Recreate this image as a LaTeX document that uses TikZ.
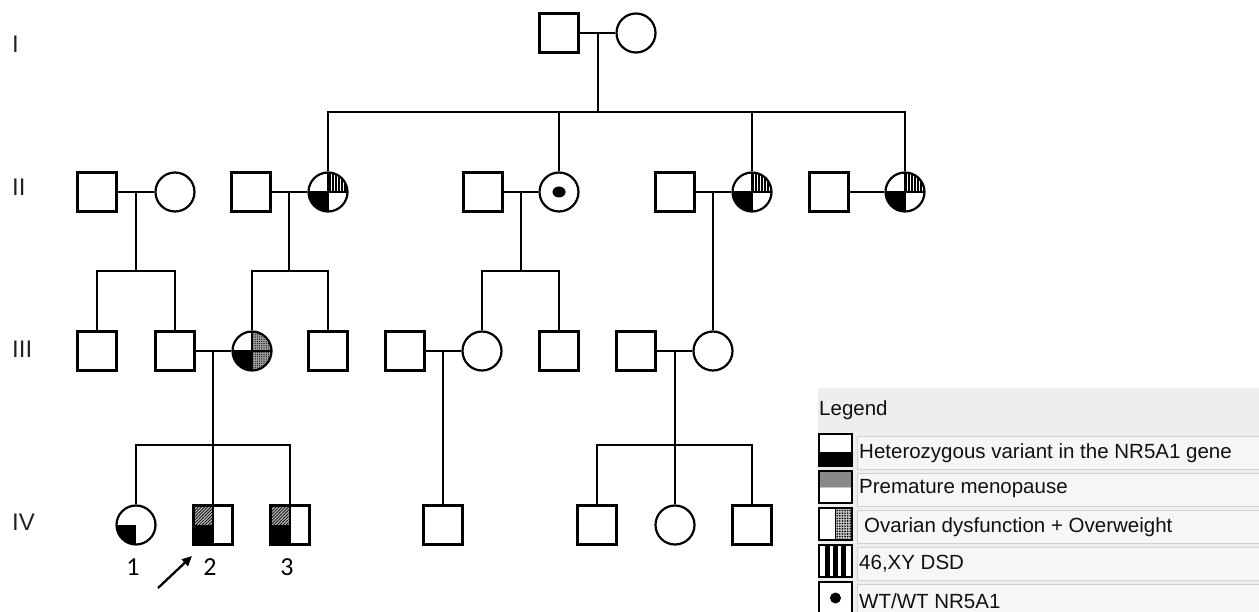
\documentclass[tikz,border=0pt]{standalone}
\usepackage{fontspec}
\setmainfont{Liberation Sans}
\newfontfamily\numfont{Carlito}
\usetikzlibrary{patterns.meta,arrows.meta}
\definecolor{legbg}{HTML}{EEEEEE}
\definecolor{boxbg}{HTML}{F6F6F6}
\definecolor{boxln}{HTML}{D2D2D2}
\definecolor{txt}{HTML}{111111}
\definecolor{genc}{HTML}{222222}
\begin{document}
\begin{tikzpicture}[x=1pt,y=-1pt,
  ln/.style={line width=2.1pt},
  sym/.style={draw, line width=2.2pt, inner sep=0pt, fill=white},
  male/.style={sym, rectangle, minimum size=39pt},
  female/.style={sym, circle, minimum size=39pt},
  legsym/.style={sym, rectangle, minimum width=33pt, minimum height=32pt},
  legtxt/.style={anchor=west, text=txt, font=\fontsize{20.5}{24}\selectfont, inner sep=0pt},
  legbox/.style={fill=boxbg, draw=boxln, line width=0.8pt},
  gen/.style={anchor=west, text=genc, font=\fontsize{24}{28}\selectfont, inner sep=0pt},
  num/.style={font=\numfont\fontsize{26}{30}\selectfont, inner sep=0pt},
  quadA/.style={path picture={
    \fill[pattern={Lines[angle=90,distance=3pt,line width=1.2pt]}] (path picture bounding box.center) rectangle (path picture bounding box.north east);
    \fill[black] (path picture bounding box.center) rectangle (path picture bounding box.south west);
    \draw[line width=1.3pt] (path picture bounding box.north) -- (path picture bounding box.south)
      (path picture bounding box.west) -- (path picture bounding box.east);}},
  quadB/.style={path picture={
    \fill[gray!75] (path picture bounding box.north) rectangle (path picture bounding box.south east);
    \fill[pattern={Dots[distance=2.2pt,radius=0.6pt]}] (path picture bounding box.north) rectangle (path picture bounding box.south east);
    \fill[black] (path picture bounding box.center) rectangle (path picture bounding box.south west);
    \draw[line width=1.3pt] (path picture bounding box.north) -- (path picture bounding box.south)
      (path picture bounding box.west) -- (path picture bounding box.east);}},
  quadC/.style={path picture={
    \fill[black] (path picture bounding box.center) rectangle (path picture bounding box.south west);}},
  quadD/.style={path picture={
    \fill[gray!60] (path picture bounding box.center) rectangle (path picture bounding box.north west);
    \fill[pattern={Lines[angle=45,distance=2.2pt,line width=0.7pt]}] (path picture bounding box.center) rectangle (path picture bounding box.north west);
    \fill[black] (path picture bounding box.center) rectangle (path picture bounding box.south west);
    \draw[line width=1.5pt] (path picture bounding box.north) -- (path picture bounding box.south);}},
  wtdot/.style={path picture={
    \fill[black] (path picture bounding box.center) ellipse (6.5pt and 5.5pt);}},
  legA/.style={path picture={
    \fill[black] ([yshift=-2pt]path picture bounding box.west) rectangle (path picture bounding box.south east);}},
  legB/.style={path picture={
    \fill[gray!60] (path picture bounding box.west) rectangle (path picture bounding box.north east);
    \fill[pattern={Dots[distance=2pt,radius=0.6pt]}] (path picture bounding box.west) rectangle (path picture bounding box.north east);}},
  legC/.style={path picture={
    \fill[gray!45] (path picture bounding box.north) rectangle (path picture bounding box.south east);
    \fill[pattern={Dots[distance=2.6pt,radius=0.9pt]}] (path picture bounding box.north) rectangle (path picture bounding box.south east);
    \draw[line width=1.6pt] (path picture bounding box.north) -- (path picture bounding box.south);}},
  legD/.style={path picture={
    \foreach \dx in {-8,0,8}{
      \fill[black] ([xshift=\dx pt-2.3pt]path picture bounding box.north) rectangle ([xshift=\dx pt+2.3pt]path picture bounding box.south);}}},
  legE/.style={path picture={
    \fill[black] (path picture bounding box.center) circle (5.5pt);}}
]
\useasboundingbox (0,0) rectangle (1259,612);
\fill[white] (0,0) rectangle (1259,612);

% generation labels
\node[gen] (gI)   at (12,44)  {I};
\node[gen] (gII)  at (12,187) {II};
\node[gen] (gIII) at (12,349) {III};
\node[gen] (gIV)  at (12,522) {IV};

% generation I
\node[male]   (I1) at (559,33) {};
\node[female] (I2) at (636,33) {};

% generation II
\node[male]         (II1)  at (97,192)  {};
\node[female]       (II2)  at (175,192) {};
\node[male]         (II3)  at (251,192) {};
\node[female,quadA] (II4)  at (328,192) {};
\node[male]         (II5)  at (483,192) {};
\node[female,wtdot] (II6)  at (559,192) {};
\node[male]         (II7)  at (675,192) {};
\node[female,quadA] (II8)  at (752,192) {};
\node[male]         (II9)  at (829,192) {};
\node[female,quadA] (II10) at (905,192) {};

% generation III
\node[male]         (III1) at (97,351)  {};
\node[male]         (III2) at (175,351) {};
\node[female,quadB] (III3) at (252,351) {};
\node[male]         (III4) at (328,351) {};
\node[male]         (III5) at (405,351) {};
\node[female]       (III6) at (482,351) {};
\node[male]         (III7) at (559,351) {};
\node[male]         (III8) at (636,351) {};
\node[female]       (III9) at (713,351) {};

% generation IV
\node[female,quadC] (IV1) at (136,525) {};
\node[male,quadD]   (IV2) at (213,525) {};
\node[male,quadD]   (IV3) at (290,525) {};
\node[male]         (IV4) at (443,525) {};
\node[male]         (IV5) at (597,525) {};
\node[female]       (IV6) at (675,525) {};
\node[male]         (IV7) at (752,525) {};

% coordinates of lines of descent
\coordinate (cI) at (598,33);  \coordinate (sI) at (598,112);
\coordinate (cA) at (136,192); \coordinate (sA) at (136,271);
\coordinate (cB) at (289,192); \coordinate (sB) at (289,271);
\coordinate (cC) at (521,192); \coordinate (sC) at (521,271);
\coordinate (cD) at (713,192);
\coordinate (cE) at (213,351); \coordinate (sE) at (213,445);
\coordinate (cF) at (443,351);
\coordinate (cG) at (675,351); \coordinate (sG) at (675,445);

% marriages
\draw[ln] (I1.east) -- (I2.west);
\draw[ln] (II1.east) -- (II2.west);
\draw[ln] (II3.east) -- (II4.west);
\draw[ln] (II5.east) -- (II6.west);
\draw[ln] (II7.east) -- (II8.west);
\draw[ln] (II9.east) -- (II10.west);
\draw[ln] (III2.east) -- (III3.west);
\draw[ln] (III5.east) -- (III6.west);
\draw[ln] (III8.east) -- (III9.west);

% descent
\draw[ln] (cI) -- (sI);
\draw[ln] (II4.north) |- (sI) -| (II10.north);
\draw[ln] (II6.north) -- (II6.north |- sI);
\draw[ln] (II8.north) -- (II8.north |- sI);

\draw[ln] (cA) -- (sA);
\draw[ln] (III1.north) |- (sA) -| (III2.north);
\draw[ln] (cB) -- (sB);
\draw[ln] (III3.north) |- (sB) -| (III4.north);
\draw[ln] (cC) -- (sC);
\draw[ln] (III6.north) |- (sC) -| (III7.north);
\draw[ln] (cD) -- (III9.north);

\draw[ln] (cE) -- (sE);
\draw[ln] (IV1.north) |- (sE) -| (IV3.north);
\draw[ln] (sE) -- (IV2.north);
\draw[ln] (cF) -- (IV4.north);
\draw[ln] (cG) -- (sG);
\draw[ln] (IV5.north) |- (sG) -| (IV7.north);
\draw[ln] (sG) -- (IV6.north);

% numbers and proband arrow
\node[num] (n1) at (133,567) {1};
\node[num] (n2) at (210,567) {2};
\node[num] (n3) at (287,567) {3};
\coordinate (arS) at (158,588);
\coordinate (arE) at (192,556);
\draw[line width=2.3pt, -{Triangle[length=10pt,width=9pt]}] (arS) -- (arE);

% legend
\fill[legbg] (818,388) rectangle (1259,612);
\node[legtxt] (lt) at (819,410) {Legend};
\draw[legbox] (857,436) rectangle (1262,469);
\draw[legbox] (857,473) rectangle (1262,506);
\draw[legbox] (857,510) rectangle (1262,543);
\draw[legbox] (857,547) rectangle (1262,580);
\draw[legbox] (857,584) rectangle (1262,617);
\node[legsym,legA] (L1) at (835.5,450) {};
\node[legsym,legB] (L2) at (835.5,487) {};
\node[legsym,legC] (L3) at (835.5,524) {};
\node[legsym,legD] (L4) at (835.5,561) {};
\node[legsym,legE] (L5) at (835.5,598) {};
\node[legtxt] (T1) at (859,453) {Heterozygous variant in the NR5A1 gene};
\node[legtxt] (T2) at (859,489) {Premature menopause};
\node[legtxt] (T3) at (864,527) {Ovarian dysfunction + Overweight};
\node[legtxt] (T4) at (859,564) {46,XY DSD};
\node[legtxt] (T5) at (859,601) {WT/WT NR5A1};
\end{tikzpicture}
\end{document}
